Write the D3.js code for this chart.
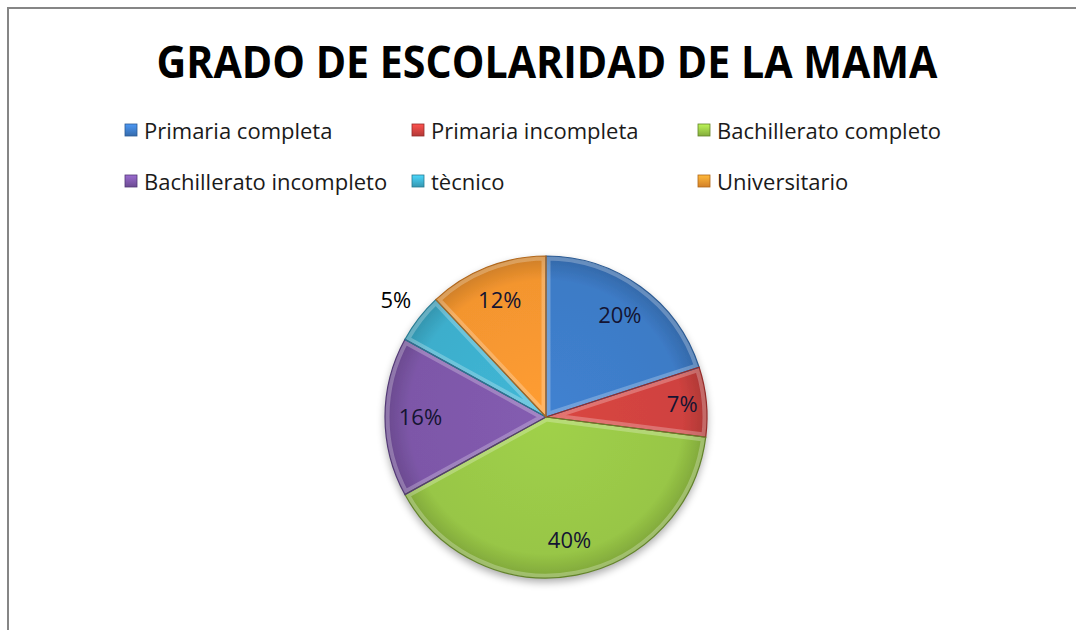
<!DOCTYPE html>
<html>
<head>
<meta charset="utf-8">
<script src="https://cdn.jsdelivr.net/npm/d3@7"></script>
<style>
  body { margin: 0; background: #fff; }
  svg { display: block; }
</style>
</head>
<body>
<div id="chart"></div>
<script>
// data (percent of mothers by schooling)
const categories = ["Primaria completa", "Primaria incompleta", "Bachillerato completo",
                    "Bachillerato incompleto", "tècnico", "Universitario"];
const values = [20, 7, 40, 16, 5, 12];
const colors = ["#3d7bc6", "#cf423f", "#98c646", "#7d57a8", "#3daecc", "#f3952f"];
const edgeColors = ["#2b5a93", "#952c2a", "#62832a", "#523875", "#267a91", "#b0661a"];
const title = "GRADO DE ESCOLARIDAD DE LA MAMA";

const width = 1076, height = 630;

const svg = d3.select("#chart").append("svg")
    .attr("width", width)
    .attr("height", height);

// chart area border (only left and top are inside the shot)
svg.append("rect")
    .attr("x", 8).attr("y", 8)
    .attr("width", 1100).attr("height", 700)
    .attr("fill", "#fff")
    .attr("stroke", "#868686")
    .attr("stroke-width", 2);

svg.append("text")
    .attr("x", 547).attr("y", 78)
    .attr("text-anchor", "middle")
    .attr("font-family", "'Open Sans', 'Liberation Sans', sans-serif")
    .attr("font-weight", "bold")
    .attr("font-size", 44)
    .attr("textLength", 781)
    .attr("lengthAdjust", "spacingAndGlyphs")
    .attr("fill", "#000")
    .text(title);

// legend: 3 columns, 2 rows
const legendX = d3.scaleOrdinal().domain([0, 1, 2]).range([125, 412, 698]);
const legendY = d3.scaleOrdinal().domain([0, 1]).range([130, 181]);

const defs = svg.append("defs");

colors.forEach((c, i) => {
    let g = defs.append("linearGradient")
        .attr("id", "lg" + i)
        .attr("x1", 0).attr("y1", 0).attr("x2", 0).attr("y2", 1);
    g.append("stop").attr("offset", "0%").attr("stop-color", d3.color(c).brighter(0.6));
    g.append("stop").attr("offset", "100%").attr("stop-color", d3.color(c).darker(0.4));
});

const legend = svg.append("g").selectAll("g")
    .data(categories)
    .enter().append("g")
    .attr("transform", (d, i) => "translate(" + legendX(i % 3) + "," + legendY(Math.floor(i / 3)) + ")");

legend.append("rect")
    .attr("x", 0).attr("y", -6)
    .attr("width", 12).attr("height", 12)
    .attr("fill", (d, i) => "url(#lg" + i + ")")
    .attr("stroke", (d, i) => edgeColors[i])
    .attr("stroke-width", 0.8);

legend.append("text")
    .attr("x", 19).attr("y", 1)
    .attr("dy", "0.35em")
    .attr("font-family", "'Open Sans', 'Liberation Sans', sans-serif")
    .attr("font-size", 22)
    .attr("fill", "#1a1a1a")
    .text(d => d);

// pie
const cx = 546, cy = 417, R = 161;

const shadow = defs.append("filter").attr("id", "shadow")
    .attr("x", "-20%").attr("y", "-20%").attr("width", "140%").attr("height", "140%");
shadow.append("feGaussianBlur").attr("in", "SourceAlpha").attr("stdDeviation", 4);
shadow.append("feOffset").attr("dx", 0).attr("dy", 4).attr("result", "b");
shadow.append("feComponentTransfer").append("feFuncA").attr("type", "linear").attr("slope", 0.35);
let merge = shadow.append("feMerge");
merge.append("feMergeNode");
merge.append("feMergeNode").attr("in", "SourceGraphic");

colors.forEach((c, i) => {
    let g = defs.append("radialGradient")
        .attr("id", "rg" + i)
        .attr("gradientUnits", "userSpaceOnUse")
        .attr("cx", 0).attr("cy", 0).attr("r", R);
    g.append("stop").attr("offset", "0%").attr("stop-color", d3.color(c).brighter(0.15));
    g.append("stop").attr("offset", "85%").attr("stop-color", c);
    g.append("stop").attr("offset", "100%").attr("stop-color", d3.color(c).darker(0.5));
});

const pie = d3.pie().sort(null).value(d => d);
const arcs = pie(values);
const arc = d3.arc().innerRadius(0).outerRadius(R);
const total = d3.sum(values);

const pieG = svg.append("g")
    .attr("transform", "translate(" + cx + "," + cy + ")");

const slices = pieG.append("g").attr("filter", "url(#shadow)");

arcs.forEach((a, i) => {
    defs.append("clipPath").attr("id", "clip" + i)
        .append("path").attr("d", arc(a));
});

slices.selectAll("path.slice")
    .data(arcs)
    .enter().append("path")
    .attr("class", "slice")
    .attr("d", arc)
    .attr("fill", (d, i) => "url(#rg" + i + ")");

// bevel highlight along slice edges
pieG.append("g").selectAll("path.bevel")
    .data(arcs)
    .enter().append("path")
    .attr("class", "bevel")
    .attr("d", arc)
    .attr("clip-path", (d, i) => "url(#clip" + i + ")")
    .attr("fill", "none")
    .attr("stroke", "#fff")
    .attr("stroke-opacity", 0.25)
    .attr("stroke-width", 9);

pieG.append("g").selectAll("path.edge")
    .data(arcs)
    .enter().append("path")
    .attr("class", "edge")
    .attr("d", arc)
    .attr("fill", "none")
    .attr("stroke", (d, i) => edgeColors[i])
    .attr("stroke-width", 1.2);

// data labels
const labelArc = d3.arc().innerRadius(R * 0.78).outerRadius(R * 0.78);
const nearArc = d3.arc().innerRadius(R * 0.85).outerRadius(R * 0.85);
const outArc = d3.arc().innerRadius(R * 1.18).outerRadius(R * 1.18);

pieG.append("g").selectAll("text")
    .data(arcs)
    .enter().append("text")
    .attr("transform", d => {
        let share = d.value / total;
        let p = share < 0.06 ? outArc.centroid(d) : share < 0.1 ? nearArc.centroid(d) : labelArc.centroid(d);
        return "translate(" + p + ")";
    })
    .attr("text-anchor", "middle")
    .attr("dy", "0.35em")
    .attr("font-family", "'Open Sans', 'Liberation Sans', sans-serif")
    .attr("font-size", 22)
    .attr("fill", d => (d.value / total < 0.06) ? "#000" : "#141432")
    .text(d => Math.round(d.value / total * 100) + "%");
</script>
</body>
</html>
